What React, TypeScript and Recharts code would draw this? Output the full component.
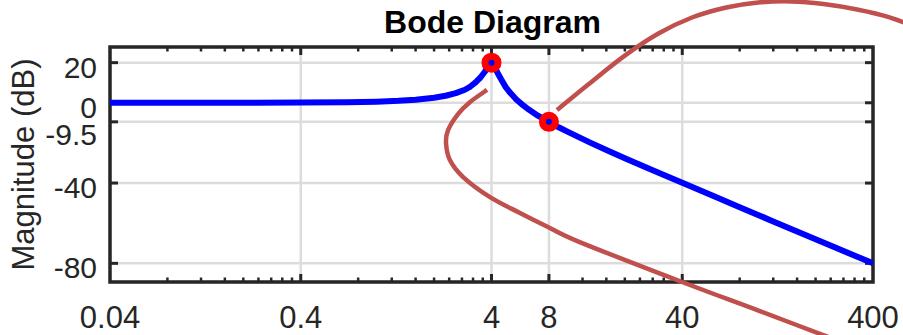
import { CartesianGrid, Customized, Line, LineChart, ReferenceDot, XAxis, YAxis } from 'recharts';

document.body.style.margin = '0';

// frequency (rad/s) and magnitude (dB)
const freq = [
  0.04, 0.1, 0.2, 0.4, 0.7, 1, 1.3, 1.6, 2, 2.3, 2.6, 2.9, 3.1, 3.3, 3.5, 3.7, 3.85, 4,
  4.15, 4.3, 4.5, 4.75, 5, 5.4, 5.8, 6.3, 7, 8, 9, 10, 13, 16, 20, 28, 40, 60, 80, 120,
  160, 250, 400,
];
const magDb = [
  0, 0, 0.02, 0.09, 0.27, 0.56, 0.97, 1.51, 2.48, 3.5, 4.8, 6.5, 8.1, 10.2, 12.6, 15.6,
  18.5, 20, 17.9, 15, 11.6, 7.8, 5.1, 1.6, -0.9, -3.5, -6.4, -9.5, -12.2, -14.4, -19.6,
  -23.5, -27.6, -33.6, -39.9, -47, -52, -59.1, -64.1, -71.9, -80,
];

const xTicks = [0.04, 0.4, 4, 8, 40, 400];
const yTicks = [-80, -40, -9.5, 0, 20];

// highlighted points
const markFreq = [4, 8];
const markDb = [20, -9.5];

// red annotation strokes, in (freq, dB)
const hookFreq = [3.79, 3.09, 2.67, 2.37, 2.31, 2.42, 2.84, 3.93, 5.64, 7.91, 11.6, 39.9, 102, 303];
const hookDb = [6.4, 0.4, -5.6, -13.5, -20, -28.5, -37, -47, -54.9, -61.9, -69.4, -89.3, -103.8, -120.8];
const arcFreq = [8.82, 13, 20, 30, 45, 68, 100, 150, 220, 330, 480, 705];
const arcDb = [-3.6, 9.5, 23.5, 34.5, 42.5, 47.5, 50, 50.5, 49.2, 46.5, 42.8, 37];

const data = freq.map((f, i) => ({ f, db: magDb[i] }));

const W = 903;
const H = 335;
const PL = 110;
const PR = 873;
const PT = 47;
const PB = 282;
const X_MIN = 0.04;
const X_MAX = 400;
const Y_MIN = -89.3;
const Y_MAX = 27.8;

const FONT = '"Liberation Sans", Arial, Helvetica, sans-serif';
const INK = '#262626';
const RED_LINE = '#c0504d';

const sx = (f: number) => PL + ((PR - PL) * Math.log10(f / X_MIN)) / Math.log10(X_MAX / X_MIN);
const sy = (v: number) => PT + ((PB - PT) * (Y_MAX - v)) / (Y_MAX - Y_MIN);

// minor ticks: 2..9 times each labelled decade start
const minorTicks: number[] = [];
[0.04, 0.4, 4, 40].forEach((b) => {
  for (let k = 2; k <= 9; k++) minorTicks.push(b * k);
});

function smooth(pts: [number, number][]) {
  let d = `M${pts[0][0]},${pts[0][1]}`;
  for (let i = 0; i < pts.length - 1; i++) {
    const p0 = pts[i - 1] || pts[i];
    const p1 = pts[i];
    const p2 = pts[i + 1];
    const p3 = pts[i + 2] || p2;
    const c1x = p1[0] + (p2[0] - p0[0]) / 6;
    const c1y = p1[1] + (p2[1] - p0[1]) / 6;
    const c2x = p2[0] - (p3[0] - p1[0]) / 6;
    const c2y = p2[1] - (p3[1] - p1[1]) / 6;
    d += ` C${c1x},${c1y} ${c2x},${c2y} ${p2[0]},${p2[1]}`;
  }
  return d;
}

function Frame() {
  const hook = hookFreq.map((f, i) => [sx(f), sy(hookDb[i])] as [number, number]);
  const arc = arcFreq.map((f, i) => [sx(f), sy(arcDb[i])] as [number, number]);
  return (
    <g>
      <rect x={PL} y={PT} width={PR - PL} height={PB - PT} fill="none" stroke={INK} strokeWidth={3.5} />
      {xTicks.slice(1, -1).map((t) => (
        <g key={`xt${t}`}>
          <line x1={sx(t)} x2={sx(t)} y1={PB} y2={PB - 8} stroke={INK} strokeWidth={3} />
          <line x1={sx(t)} x2={sx(t)} y1={PT} y2={PT + 8} stroke={INK} strokeWidth={3} />
        </g>
      ))}
      {minorTicks
        .filter((t) => !xTicks.includes(t))
        .map((t) => (
          <g key={`mt${t}`}>
            <line x1={sx(t)} x2={sx(t)} y1={PB} y2={PB - 4.5} stroke={INK} strokeWidth={2.5} />
            <line x1={sx(t)} x2={sx(t)} y1={PT} y2={PT + 4.5} stroke={INK} strokeWidth={2.5} />
          </g>
        ))}
      {yTicks.map((t) => (
        <g key={`yt${t}`}>
          <line x1={PL} x2={PL + 8} y1={sy(t)} y2={sy(t)} stroke={INK} strokeWidth={3} />
          <line x1={PR} x2={PR - 8} y1={sy(t)} y2={sy(t)} stroke={INK} strokeWidth={3} />
        </g>
      ))}
      <text
        x={(PL + PR) / 2 + 1}
        y={33}
        textAnchor="middle"
        fontFamily={FONT}
        fontWeight="bold"
        fontSize={32}
        fill="#000"
      >
        Bode Diagram
      </text>
      <text
        x={34}
        y={(PT + PB) / 2}
        transform={`rotate(-90 34 ${(PT + PB) / 2})`}
        textAnchor="middle"
        fontFamily={FONT}
        fontSize={31}
        fill={INK}
      >
        Magnitude (dB)
      </text>
      <path d={smooth(hook)} fill="none" stroke={RED_LINE} strokeWidth={4.5} />
      <path d={smooth(arc)} fill="none" stroke={RED_LINE} strokeWidth={4.5} />
    </g>
  );
}

const XTick = ({ x, payload }: any) => (
  <text x={x} y={PB + 46} textAnchor="middle" fontFamily={FONT} fontSize={31} fill={INK}>
    {payload.value}
  </text>
);

const YTick = ({ y, payload }: any) => (
  <text
    x={PL - 13}
    y={y + (payload.value === -9.5 ? 23 : 15)}
    textAnchor="end"
    fontFamily={FONT}
    fontSize={30}
    fill={INK}
  >
    {payload.value}
  </text>
);

export default function App() {
  return (
    <div style={{ width: W, height: H, background: '#fff' }}>
      <LineChart width={W} height={H} data={data} margin={{ top: PT, right: W - PR, bottom: 0, left: 0 }}>
        <CartesianGrid stroke="#dcdcdc" strokeWidth={2.5} />
        <XAxis
          dataKey="f"
          type="number"
          scale="log"
          domain={[X_MIN, X_MAX]}
          ticks={xTicks}
          interval={0}
          allowDataOverflow
          height={H - PB}
          axisLine={false}
          tickLine={false}
          tick={<XTick />}
        />
        <YAxis
          type="number"
          domain={[Y_MIN, Y_MAX]}
          ticks={yTicks}
          interval={0}
          allowDataOverflow
          width={PL}
          axisLine={false}
          tickLine={false}
          tick={<YTick />}
        />
        <Line
          dataKey="db"
          type="linear"
          stroke="#0000ff"
          strokeWidth={6}
          strokeLinejoin="round"
          dot={false}
          isAnimationActive={false}
        />
        {markFreq.map((f, i) => (
          <ReferenceDot key={`m${f}`} x={f} y={markDb[i]} r={8.5} fill="#ff0000" stroke="#ff0000" strokeWidth={3} ifOverflow="visible" />
        ))}
        {markFreq.map((f, i) => (
          <ReferenceDot key={`c${f}`} x={f} y={markDb[i]} r={3} fill="#0000ff" stroke="none" ifOverflow="visible" />
        ))}
        <Customized component={Frame} />
      </LineChart>
    </div>
  );
}
